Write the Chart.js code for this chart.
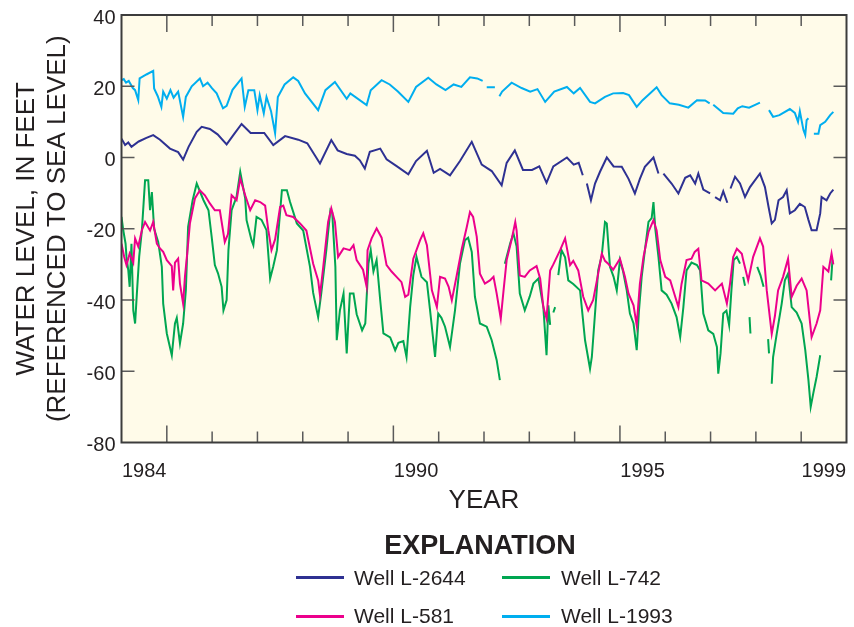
<!DOCTYPE html>
<html>
<head>
<meta charset="utf-8">
<script src="https://cdn.jsdelivr.net/npm/chart.js@4.4.1/dist/chart.umd.min.js"></script>
<style>
html,body{margin:0;padding:0;background:#ffffff;}
#wrap{position:relative;width:854px;height:627px;overflow:hidden;}
#chart{position:absolute;left:0;top:0;}
.lg{position:absolute;font-family:"Liberation Sans",Arial,sans-serif;color:#231f20;white-space:nowrap;}
.ttl{font-size:27px;line-height:27px;font-weight:bold;text-align:center;width:300px;}
.txt{font-size:21px;line-height:21px;}
.sw{position:absolute;height:3px;width:48px;}
</style>
</head>
<body>
<div id="wrap">
<canvas id="chart" width="854" height="627"></canvas>
<div class="lg ttl" style="left:330px;top:532px;">EXPLANATION</div>
<div id="sw2644" class="sw" style="left:296px;top:576px;"></div>
<div class="lg txt" style="left:354px;top:567px;">Well L-2644</div>
<div id="sw742" class="sw" style="left:502px;top:576px;"></div>
<div class="lg txt" style="left:561px;top:567px;">Well L-742</div>
<div id="sw581" class="sw" style="left:296px;top:615px;"></div>
<div class="lg txt" style="left:354px;top:605px;">Well L-581</div>
<div id="sw1993" class="sw" style="left:502px;top:615px;"></div>
<div class="lg txt" style="left:561px;top:605px;">Well L-1993</div>
</div>
<script>
// ---------- DATA (decimal year, water level in feet; null = gap in record) ----------
const yearLabels = [1984, 1990, 1995, 1999];

const l1993Years = [1984.00,1984.05,1984.10,1984.16,1984.25,1984.30,1984.37,1984.40,1984.55,1984.70,1984.72,1984.80,1984.88,1984.92,1985.00,1985.08,1985.15,1985.25,1985.36,1985.42,1985.55,1985.73,1985.80,1985.90,1986.00,1986.10,1986.24,1986.32,1986.45,1986.65,1986.72,1986.80,1986.93,1987.00,1987.05,1987.14,1987.20,1987.30,1987.39,1987.45,1987.60,1987.79,1987.90,1988.05,1988.34,1988.50,1988.71,1988.97,1989.05,1989.41,1989.50,1989.74,1989.92,1990.10,1990.33,1990.50,1990.77,1990.95,1991.15,1991.33,1991.50,1991.69,1991.85,1991.97,1992.00,1992.06,1992.24,1992.29,1992.34,1992.40,1992.61,1992.83,1993.02,1993.18,1993.35,1993.55,1993.83,1993.98,1994.12,1994.34,1994.45,1994.67,1994.85,1995.07,1995.20,1995.37,1995.50,1995.81,1995.92,1996.10,1996.30,1996.51,1996.70,1996.88,1996.98,1997.02,1997.06,1997.28,1997.50,1997.60,1997.70,1997.85,1998.09,1998.14,1998.29,1998.38,1998.52,1998.75,1998.86,1998.93,1998.97,1999.05,1999.09,1999.12,1999.16,1999.20,1999.28,1999.38,1999.42,1999.53,1999.64,1999.71];
const l1993Levels = [21.7,22.0,21.0,21.5,19.5,18.9,16.1,22.2,23.3,24.3,19.4,17.2,14.2,18.5,16.5,18.9,16.8,18.5,11.4,17.0,20.0,22.2,20.0,21.0,19.4,18.0,13.8,14.5,19.0,22.2,14.2,18.9,18.9,13.3,17.5,12.4,17.0,13.0,6.8,17.0,20.5,22.5,21.5,18.0,13.3,18.9,21.2,16.5,18.0,14.7,18.9,21.7,20.5,18.5,15.6,19.8,22.4,20.5,18.9,20.5,19.8,22.5,22.2,21.5,null,19.7,19.7,null,17.2,18.5,21.0,19.5,18.5,19.2,15.6,18.5,19.8,18.0,19.5,15.6,15.2,17.0,18.0,18.1,17.5,14.2,16.1,19.7,17.5,15.2,14.8,14.0,16.1,16.0,15.2,null,14.8,12.5,12.3,13.8,14.4,14.0,15.4,null,13.3,11.4,11.9,13.6,12.5,10.0,13.0,7.7,6.3,10.5,11.0,null,6.7,6.7,9.1,10.0,11.9,12.8];

const l2644Years = [1984.00,1984.08,1984.15,1984.22,1984.38,1984.55,1984.70,1984.85,1985.07,1985.25,1985.36,1985.48,1985.66,1985.77,1985.95,1986.12,1986.32,1986.48,1986.65,1986.85,1987.15,1987.35,1987.61,1987.90,1988.10,1988.38,1988.63,1988.77,1988.97,1989.15,1989.26,1989.37,1989.48,1989.71,1989.85,1990.08,1990.33,1990.50,1990.74,1990.89,1991.03,1991.25,1991.47,1991.73,1991.95,1992.17,1992.39,1992.50,1992.68,1992.86,1993.06,1993.22,1993.38,1993.53,1993.83,1993.98,1994.09,1994.18,1994.22,1994.27,1994.36,1994.45,1994.56,1994.71,1994.86,1995.04,1995.19,1995.33,1995.44,1995.55,1995.74,1995.85,1995.91,1995.96,1996.14,1996.29,1996.44,1996.55,1996.66,1996.73,1996.84,1996.99,1997.03,1997.10,1997.21,1997.28,1997.37,1997.40,1997.44,1997.54,1997.65,1997.76,1997.87,1998.09,1998.20,1998.28,1998.35,1998.42,1998.50,1998.60,1998.68,1998.75,1998.86,1998.97,1999.08,1999.16,1999.23,1999.34,1999.42,1999.45,1999.56,1999.64,1999.71];
const l2644Levels = [5.3,3.5,4.2,3.0,4.5,5.5,6.3,5.0,2.5,1.5,-0.6,3.0,7.2,8.6,8.0,6.5,3.7,6.5,9.4,6.9,6.9,3.5,6.0,5.0,4.0,-1.7,4.9,2.0,1.0,0.5,-0.8,-3.1,1.6,2.5,-0.5,-2.5,-4.7,-1.0,1.9,-4.3,-3.2,-5.0,-1.0,4.4,-2.0,-3.8,-7.8,-1.5,2.0,-3.5,-3.5,-2.5,-7.1,-2.5,0.0,-2.0,-1.5,-5.0,null,-7.3,-12.0,-7.3,-4.0,0.0,-2.5,-2.6,-6.0,-10.1,-6.0,-2.6,0.0,-4.5,null,-4.5,-7.3,-10.1,-5.7,-5.0,-7.3,-4.5,-9.0,-10.1,null,-11.1,-12.0,-9.5,-12.7,null,-8.7,-5.4,-7.3,-11.1,-8.3,-4.5,-8.3,-13.9,-18.5,-17.5,-12.0,-11.1,-9.2,-15.7,-14.8,-13.0,-13.9,-17.5,-20.4,-20.4,-15.7,-11.1,-12.0,-10.1,-9.0];

const l581Years = [1984.00,1984.06,1984.11,1984.18,1984.26,1984.30,1984.37,1984.45,1984.52,1984.63,1984.70,1984.78,1984.85,1984.92,1985.00,1985.11,1985.14,1985.18,1985.25,1985.29,1985.36,1985.40,1985.45,1985.51,1985.62,1985.73,1985.84,1985.95,1986.06,1986.17,1986.28,1986.35,1986.43,1986.54,1986.62,1986.73,1986.84,1986.95,1987.06,1987.17,1987.24,1987.31,1987.39,1987.50,1987.57,1987.64,1987.79,1987.94,1988.08,1988.23,1988.34,1988.38,1988.45,1988.56,1988.63,1988.71,1988.78,1988.90,1989.04,1989.12,1989.19,1989.33,1989.41,1989.43,1989.52,1989.63,1989.74,1989.85,1989.96,1990.07,1990.18,1990.26,1990.33,1990.44,1990.59,1990.66,1990.74,1990.85,1990.96,1991.03,1991.14,1991.22,1991.29,1991.40,1991.51,1991.62,1991.69,1991.76,1991.84,1991.91,1992.02,1992.13,1992.21,1992.28,1992.37,1992.43,1992.50,1992.61,1992.69,1992.72,1992.79,1992.90,1993.01,1993.16,1993.24,1993.31,1993.38,1993.46,1993.53,1993.68,1993.79,1993.90,1993.97,1994.08,1994.19,1994.30,1994.41,1994.52,1994.60,1994.67,1994.74,1994.85,1995.00,1995.11,1995.19,1995.30,1995.37,1995.44,1995.52,1995.63,1995.74,1995.81,1995.89,1996.00,1996.11,1996.22,1996.29,1996.36,1996.47,1996.58,1996.65,1996.73,1996.80,1996.95,1997.10,1997.25,1997.36,1997.43,1997.50,1997.58,1997.69,1997.72,1997.83,1997.94,1998.09,1998.16,1998.24,1998.35,1998.42,1998.49,1998.60,1998.71,1998.79,1998.90,1999.01,1999.12,1999.23,1999.34,1999.42,1999.49,1999.60,1999.67,1999.71];
const l581Levels = [-24.2,-27.9,-30.2,-27.0,-29.5,-22.7,-25.0,-20.4,-18.1,-20.5,-18.1,-24.2,-25.5,-26.5,-28.8,-30.5,-37.3,-29.5,-28.4,-35.4,-41.0,-33.5,-27.0,-18.5,-11.5,-9.2,-10.6,-12.9,-14.8,-14.8,-23.7,-21.5,-10.6,-12.0,-5.9,-10.6,-14.8,-12.0,-12.5,-13.5,-20.4,-26.0,-23.0,-13.9,-13.5,-16.2,-16.7,-18.5,-20.5,-29.8,-34.5,-38.7,-31.0,-18.1,-14.3,-18.1,-27.9,-25.5,-26.0,-24.6,-28.8,-31.5,-36.3,-26.0,-22.7,-19.9,-22.5,-30.2,-32.0,-33.5,-35.0,-39.1,-38.5,-28.4,-23.2,-21.3,-24.6,-37.3,-42.0,-33.5,-34.0,-36.3,-40.1,-33.0,-25.6,-19.5,-15.3,-16.7,-22.3,-32.6,-35.4,-34.5,-33.5,-38.2,-45.2,-37.5,-28.8,-23.0,-18.1,-20.5,-33.1,-33.5,-31.7,-30.5,-34.0,-42.0,-45.2,-31.7,-30.0,-26.0,-22.7,-30.2,-29.0,-31.7,-39.1,-42.9,-40.0,-32.6,-27.0,-29.0,-29.8,-31.5,-28.4,-33.5,-38.2,-41.5,-47.1,-35.5,-27.9,-20.9,-17.6,-20.5,-28.8,-33.5,-34.5,-39.1,-42.0,-35.5,-28.8,-28.4,-26.5,-25.6,-34.5,-35.4,-37.3,-35.4,-41.0,-35.4,-27.9,-25.6,-27.0,-28.8,-34.5,-27.9,-22.7,-25.0,-37.3,-49.5,-44.5,-37.3,-33.5,-28.4,-39.1,-36.0,-34.0,-37.3,-50.4,-46.6,-42.9,-30.7,-32.0,-27.0,-30.0];

const l742Years = [1984.00,1984.04,1984.09,1984.11,1984.15,1984.18,1984.22,1984.26,1984.30,1984.34,1984.39,1984.45,1984.52,1984.59,1984.63,1984.67,1984.72,1984.81,1984.89,1984.92,1985.00,1985.11,1985.18,1985.22,1985.29,1985.36,1985.42,1985.47,1985.57,1985.66,1985.81,1985.92,1985.99,1986.06,1986.13,1986.21,1986.25,1986.32,1986.36,1986.43,1986.54,1986.62,1986.73,1986.76,1986.87,1986.91,1986.98,1987.09,1987.20,1987.28,1987.35,1987.43,1987.54,1987.65,1987.72,1987.87,1988.01,1988.16,1988.23,1988.34,1988.41,1988.52,1988.61,1988.65,1988.72,1988.75,1988.82,1988.90,1988.97,1989.04,1989.12,1989.19,1989.31,1989.38,1989.45,1989.50,1989.56,1989.63,1989.71,1989.78,1989.93,1990.04,1990.11,1990.22,1990.29,1990.37,1990.44,1990.51,1990.62,1990.74,1990.81,1990.92,1990.99,1991.06,1991.14,1991.25,1991.36,1991.47,1991.58,1991.65,1991.73,1991.80,1991.91,1992.06,1992.17,1992.28,1992.35,1992.40,1992.46,1992.58,1992.65,1992.72,1992.79,1992.90,1993.01,1993.09,1993.20,1993.31,1993.38,1993.42,1993.46,1993.48,1993.53,1993.57,1993.60,1993.64,1993.71,1993.79,1993.86,1993.97,1994.12,1994.23,1994.34,1994.38,1994.45,1994.52,1994.60,1994.67,1994.71,1994.78,1994.86,1994.93,1995.00,1995.07,1995.15,1995.22,1995.30,1995.37,1995.42,1995.48,1995.56,1995.63,1995.70,1995.74,1995.78,1995.85,1995.92,1996.03,1996.14,1996.25,1996.33,1996.40,1996.47,1996.58,1996.70,1996.77,1996.84,1996.95,1997.06,1997.14,1997.17,1997.22,1997.28,1997.35,1997.41,1997.46,1997.51,1997.58,1997.65,1997.68,1997.72,1997.76,1997.79,1997.86,1997.88,1997.91,1998.03,1998.10,1998.17,1998.20,1998.27,1998.29,1998.31,1998.35,1998.38,1998.46,1998.57,1998.64,1998.71,1998.79,1998.90,1999.01,1999.09,1999.16,1999.21,1999.27,1999.34,1999.42,1999.46,1999.66,1999.69];
const l742Levels = [-16.7,-20.5,-24.2,-27.9,-31.7,-36.3,-24.2,-42.9,-46.6,-38.0,-27.9,-20.4,-6.4,-6.4,-14.8,-9.7,-20.0,-23.7,-30.7,-41.0,-49.4,-55.5,-46.6,-45.0,-52.2,-46.6,-37.3,-19.5,-12.0,-7.3,-12.0,-14.8,-22.3,-30.2,-32.5,-36.3,-42.9,-40.0,-26.0,-14.8,-11.0,-4.0,-11.5,-17.6,-23.2,-24.6,-16.7,-17.5,-20.4,-34.0,-30.5,-26.0,-9.2,-9.2,-12.5,-18.5,-20.5,-30.7,-38.0,-44.8,-38.0,-26.0,-14.8,-15.5,-30.7,-51.3,-42.9,-38.2,-55.0,-38.2,-38.2,-44.0,-48.5,-46.6,-29.8,-26.0,-32.0,-28.8,-40.1,-49.4,-50.5,-54.1,-52.0,-51.5,-56.0,-42.0,-33.0,-27.9,-33.5,-35.0,-42.9,-56.0,-43.8,-45.0,-47.5,-53.2,-42.9,-29.8,-23.2,-22.5,-26.5,-39.1,-46.6,-47.5,-51.3,-56.9,-62.5,null,-29.8,-24.0,-21.3,-25.0,-38.2,-42.9,-39.0,-35.4,-34.0,-42.0,-55.5,-41.5,-47.0,null,-43.5,-42.0,null,-33.0,-26.0,-28.0,-34.5,-35.5,-37.3,-51.3,-59.3,-56.0,-43.8,-31.7,-27.5,-18.1,-18.5,-30.7,-33.5,-37.3,-28.8,-32.0,-37.3,-43.8,-46.6,-54.1,-43.0,-33.5,-25.1,-18.1,-17.0,-12.5,-20.0,-27.9,-37.3,-38.5,-41.0,-44.8,-50.4,-42.0,-31.7,-29.5,-30.2,-31.7,-43.8,-48.5,-49.5,-53.2,-60.7,-55.0,-43.8,-43.0,-47.1,-37.3,-28.8,-27.9,-29.8,null,-33.5,-36.0,null,-44.8,-49.4,null,-30.7,-33.0,-36.3,null,-51.0,-55.0,null,-63.5,-56.0,-49.5,-41.0,-34.5,-32.6,-42.0,-43.5,-46.6,-54.1,-62.5,-70.0,-66.0,-61.6,-55.5,null,-34.5,-28.8];

// ---------- STYLE ----------
const COLORS = { l2644:'#2e3192', l742:'#00a651', l581:'#ec008c', l1993:'#00aeef' };
const TEXT = '#231f20';
const PLOT_BG = '#fffbe9';
const FONT = '"Liberation Sans", Arial, sans-serif';

document.getElementById('sw2644').style.background = COLORS.l2644;
document.getElementById('sw742').style.background = COLORS.l742;
document.getElementById('sw581').style.background = COLORS.l581;
document.getElementById('sw1993').style.background = COLORS.l1993;

const toPoints = (xs, ys) => xs.map((x, i) => ({ x: x, y: ys[i] }));

const areaBg = {
  id: 'areaBg',
  beforeDatasetsDraw(chart) {
    const { ctx, chartArea: a } = chart;
    ctx.save();
    ctx.fillStyle = PLOT_BG;
    ctx.fillRect(a.left, a.top, a.right - a.left, a.bottom - a.top);
    ctx.restore();
  }
};

const frame = {
  id: 'frame',
  afterDatasetsDraw(chart) {
    const { ctx, chartArea: a, scales } = chart;
    const xs = scales.x, ys = scales.y;
    ctx.save();
    ctx.strokeStyle = '#5a5a5a';
    ctx.lineWidth = 1.5;
    ctx.beginPath();
    for (let yr = Math.ceil(xs.min) + 1; yr < xs.max; yr++) {
      const px = xs.getPixelForValue(yr);
      const len = (yr % 5 === 0) ? 17 : 11;
      ctx.moveTo(px, a.bottom); ctx.lineTo(px, a.bottom - len);
      ctx.moveTo(px, a.top); ctx.lineTo(px, a.top + len);
    }
    for (let v = ys.min + 20; v < ys.max; v += 20) {
      const py = ys.getPixelForValue(v);
      ctx.moveTo(a.left, py); ctx.lineTo(a.left + 13, py);
      ctx.moveTo(a.right, py); ctx.lineTo(a.right - 13, py);
    }
    ctx.stroke();
    ctx.strokeStyle = '#3c3c3c';
    ctx.lineWidth = 2;
    ctx.strokeRect(a.left, a.top, a.right - a.left, a.bottom - a.top);
    ctx.restore();
  }
};

const lineDs = (label, xs, ys, color, order) => ({
  label: label,
  data: toPoints(xs, ys),
  borderColor: color,
  backgroundColor: color,
  borderWidth: 2,
  pointRadius: 0,
  tension: 0,
  spanGaps: false,
  order: order
});

new Chart(document.getElementById('chart'), {
  type: 'line',
  data: {
    datasets: [
      lineDs('Well L-2644', l2644Years, l2644Levels, COLORS.l2644, 1),
      lineDs('Well L-742', l742Years, l742Levels, COLORS.l742, 3),
      lineDs('Well L-581', l581Years, l581Levels, COLORS.l581, 2),
      lineDs('Well L-1993', l1993Years, l1993Levels, COLORS.l1993, 1)
    ]
  },
  options: {
    responsive: false,
    animation: false,
    devicePixelRatio: 1,
    layout: { padding: { top: 15, right: 7.5, bottom: 111, left: 0 } },
    plugins: { legend: { display: false }, tooltip: { enabled: false } },
    scales: {
      x: {
        type: 'linear',
        min: 1984,
        max: 2000,
        grid: { display: false, drawTicks: false },
        border: { display: false },
        afterBuildTicks: s => { s.ticks = yearLabels.map(v => ({ value: v + 0.5 })); },
        ticks: {
          autoSkip: false, maxRotation: 0, padding: 17,
          color: TEXT, font: { family: FONT, size: 20 },
          callback: v => String(Math.floor(v))
        },
        title: { display: true, text: 'YEAR', color: TEXT, font: { family: FONT, size: 26 }, padding: { top: 0, bottom: 0 } },
        afterFit: s => { s.height = 73.5; s.paddingLeft = 0; s.paddingRight = 0; }
      },
      y: {
        type: 'linear',
        min: -80,
        max: 40,
        grid: { display: false, drawTicks: false },
        border: { display: false },
        ticks: { stepSize: 20, padding: 6, labelOffset: 3, color: TEXT, font: { family: FONT, size: 20 } },
        title: {
          display: true,
          text: ['WATER LEVEL, IN FEET', '(REFERENCED TO SEA LEVEL)'],
          color: TEXT,
          font: { family: FONT, size: 26, lineHeight: 1.2 },
          padding: { top: 11, bottom: 0 }
        },
        afterFit: s => { s.width = 121.5; s.paddingTop = 0; s.paddingBottom = 0; }
      }
    }
  },
  plugins: [areaBg, frame]
});
</script>
</body>
</html>
